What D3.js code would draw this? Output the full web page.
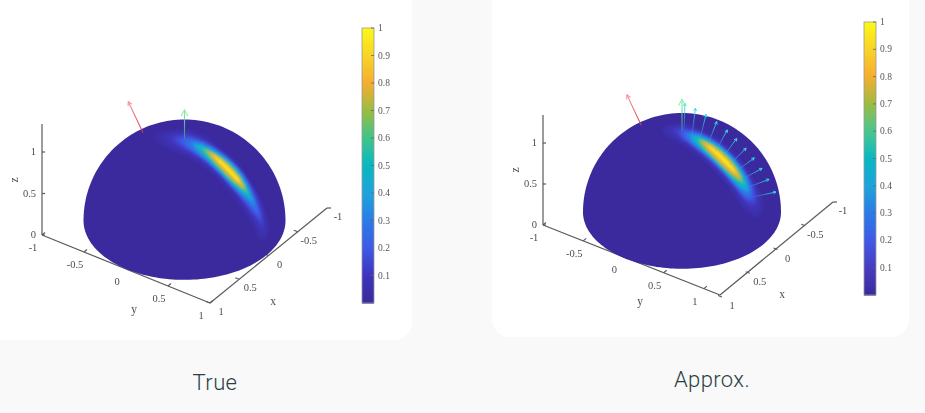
<!DOCTYPE html>
<html>
<head>
<meta charset="utf-8">
<script src="https://cdn.jsdelivr.net/npm/d3@7"></script>
<style>
  html, body { margin: 0; padding: 0; background: #f9f9f9; }
  svg { display: block; }
  .tick-label { font-family: "Liberation Serif", serif; font-size: 10.5px; fill: #4d4d4d; }
  .bar-label { font-family: "Liberation Serif", serif; font-size: 9.5px; fill: #555; }
  .title { font-family: Roboto, sans-serif; font-weight: 300; font-size: 22px; fill: #2b3d45; letter-spacing: .4px; }
</style>
</head>
<body>
<div id="chart"></div>
<script>
// values
const axisTicks = [-1, -0.5, 0, 0.5, 1];
const zTicks = [0, 0.5, 1];
const barTicks = [0.1, 0.2, 0.3, 0.4, 0.5, 0.6, 0.7, 0.8, 0.9, 1];

const colorStops = [0, 0.1, 0.2, 0.3, 0.4, 0.5, 0.6, 0.7, 0.8, 0.9, 1];
const colorValues = ["#3a2a9e", "#4034bc", "#3f5ae8", "#2b7ce6", "#1fa4dc", "#08b8c2", "#40c48a", "#9cbc42", "#f6ae30", "#f8d428", "#fbf916"];

// ridge stations (degrees from the pole towards +y) and offsets across it
const thetaDeg = [-20, -15, -10, -5, 0, 5, 10, 15, 20, 25, 30, 35, 40, 45, 50, 55, 60, 65, 70, 75, 80];
const offsetDeg = [-15, -11.25, -7.5, -3.75, 0, 3.75, 7.5, 11.25, 15];

const trueValues = [
  [0, 0, 0, 0, .01, .01, .01, 0, 0],
  [0, 0, 0, .01, .03, .03, .02, 0, 0],
  [0, 0, .01, .04, .07, .07, .04, .01, 0],
  [0, .01, .03, .08, .13, .13, .07, .02, 0],
  [0, .02, .06, .14, .21, .19, .10, .03, 0],
  [0, .01, .06, .18, .31, .25, .11, .03, 0],
  [0, .01, .06, .24, .48, .33, .11, .02, 0],
  [0, 0, .05, .30, .68, .40, .10, .01, 0],
  [0, 0, .04, .36, .88, .48, .09, .01, 0],
  [0, 0, .04, .44, 1, .60, .09, .01, 0],
  [0, 0, .04, .50, 1, .66, .09, .01, 0],
  [0, 0, .04, .50, 1, .66, .09, .01, 0],
  [0, 0, .03, .42, 1, .56, .08, .01, 0],
  [0, 0, .02, .30, .78, .42, .06, 0, 0],
  [0, 0, .02, .20, .54, .28, .05, 0, 0],
  [0, 0, .01, .15, .38, .20, .04, 0, 0],
  [0, 0, .01, .11, .28, .15, .03, 0, 0],
  [0, 0, .01, .08, .20, .10, .02, 0, 0],
  [0, 0, 0, .05, .13, .07, .01, 0, 0],
  [0, 0, 0, .03, .07, .04, .01, 0, 0],
  [0, 0, 0, .01, .02, .01, 0, 0, 0]
];

const approxValues = [
  [0, 0, 0, 0, 0, 0, 0, 0, 0],
  [0, 0, 0, 0, 0, 0, 0, 0, 0],
  [0, 0, 0, .02, .04, .03, .01, 0, 0],
  [0, 0, .02, .07, .11, .08, .03, 0, 0],
  [0, 0, .04, .12, .18, .14, .05, 0, 0],
  [0, 0, .05, .18, .32, .24, .07, 0, 0],
  [0, 0, .06, .28, .52, .36, .09, 0, 0],
  [0, .01, .08, .38, .78, .50, .11, 0, 0],
  [0, .01, .09, .48, .96, .62, .13, .01, 0],
  [0, .01, .10, .56, 1, .70, .14, .01, 0],
  [0, .01, .10, .58, 1, .74, .14, .01, 0],
  [0, .01, .10, .56, 1, .72, .14, .01, 0],
  [0, .01, .09, .50, .96, .64, .12, .01, 0],
  [0, .01, .08, .40, .78, .50, .10, 0, 0],
  [0, 0, .07, .30, .54, .36, .08, 0, 0],
  [0, 0, .06, .20, .34, .24, .07, 0, 0],
  [0, 0, .05, .13, .18, .13, .05, 0, 0],
  [0, 0, .03, .07, .09, .06, .02, 0, 0],
  [0, 0, .01, .02, .03, .02, .01, 0, 0],
  [0, 0, 0, 0, 0, 0, 0, 0, 0],
  [0, 0, 0, 0, 0, 0, 0, 0, 0]
];

// arrows: angle from the pole towards +y
const redArrowTheta = -30;
const greenArrowTheta = 0;
const cyanArrowTheta = [1.5, 7, 12.6, 18.4, 24.3, 29.8, 35.6, 41, 46.6, 52.2, 58.5];

const width = 925, height = 413;
const svg = d3.select("#chart").append("svg").attr("width", width).attr("height", height);

const defs = svg.append("defs");
defs.append("filter").attr("id", "soft").attr("x", "-20%").attr("y", "-20%").attr("width", "140%").attr("height", "140%")
  .append("feGaussianBlur").attr("stdDeviation", 1.2);

const color = d3.scaleLinear().domain(colorStops).range(colorValues).clamp(true);
const levels = d3.range(0.02, 1, 0.025);

function rad(d) { return d * Math.PI / 180; }

// point on the unit sphere -> [lon, lat], the ridge runs in the plane x = 0
function ridgePoint(theta, offset) {
  const t = rad(theta), o = rad(offset);
  const px = Math.sin(o), py = Math.cos(o) * Math.sin(t), pz = Math.cos(o) * Math.cos(t);
  return [Math.atan2(py, px) * 180 / Math.PI, Math.asin(pz) * 180 / Math.PI];
}

let gradientId = 0;

function drawPanel(p) {
  const g = svg.append("g");

  g.append("rect").attr("x", p.card[0]).attr("y", -40)
    .attr("width", p.card[1] - p.card[0]).attr("height", p.card[2] + 40)
    .attr("rx", 18).attr("fill", "#fff");

  const plot = g.append("g").style("filter", "blur(0.4px)");

  // hemisphere, drawn through a geo projection
  const projection = d3.geoOrthographic()
    .rotate([-p.azimuth, -p.elevation])
    .scale(p.r)
    .translate([p.cx, p.cy])
    .clipAngle(90);
  const geo = d3.geoPath(projection);
  const cap = d3.geoCircle().center([0, 90]).radius(90)();

  defs.append("clipPath").attr("id", "cap-" + p.id).append("path").attr("d", geo(cap));

  // axes first, the sphere sits on top of them
  const yX = d3.scaleLinear().domain([-1, p.yMax]).range([p.yStart[0], p.corner[0]]);
  const yY = d3.scaleLinear().domain([-1, p.yMax]).range([p.yStart[1], p.corner[1]]);
  const xX = d3.scaleLinear().domain([1, -1]).range([p.xStart[0], p.xEnd[0]]);
  const xY = d3.scaleLinear().domain([1, -1]).range([p.xStart[1], p.xEnd[1]]);
  const zY = d3.scaleLinear().domain([0, 1]).range([p.yStart[1], p.zOne]);

  const axes = plot.append("g").attr("stroke", "#5a5a5a").attr("fill", "none").attr("stroke-width", 1.2);
  axes.append("line").attr("x1", p.yStart[0]).attr("y1", p.yStart[1]).attr("x2", p.corner[0]).attr("y2", p.corner[1]);
  axes.append("line").attr("x1", p.corner[0]).attr("y1", p.corner[1]).attr("x2", p.xEnd[0]).attr("y2", p.xEnd[1]);
  axes.append("line").attr("x1", p.yStart[0]).attr("y1", p.yStart[1]).attr("x2", p.yStart[0]).attr("y2", p.zTop);

  axes.selectAll(".yt").data(axisTicks).join("line").attr("class", "yt")
    .attr("x1", d => yX(d)).attr("y1", d => yY(d))
    .attr("x2", d => yX(d) + 3).attr("y2", d => yY(d) - 2.5);
  axes.selectAll(".xt").data(axisTicks).join("line").attr("class", "xt")
    .attr("x1", d => xX(d)).attr("y1", d => xY(d))
    .attr("x2", d => xX(d) + (d === -1 ? 4 : -4)).attr("y2", d => xY(d) - (d === -1 ? 0 : 1.5));
  axes.selectAll(".zt").data(zTicks).join("line").attr("class", "zt")
    .attr("x1", p.yStart[0]).attr("y1", d => zY(d))
    .attr("x2", p.yStart[0] + 3).attr("y2", d => zY(d));

  plot.selectAll(".ylab").data(axisTicks).join("text").attr("class", "tick-label ylab")
    .attr("text-anchor", "middle")
    .attr("x", d => yX(d) + p.yLabel[0]).attr("y", d => yY(d) + p.yLabel[1])
    .text(d => d);
  plot.selectAll(".xlab").data(axisTicks).join("text").attr("class", "tick-label xlab")
    .attr("text-anchor", "middle")
    .attr("x", d => xX(d) + p.xLabel[0]).attr("y", d => xY(d) + p.xLabel[1])
    .text(d => d);
  plot.selectAll(".zlab").data(zTicks).join("text").attr("class", "tick-label zlab")
    .attr("text-anchor", "end")
    .attr("x", p.yStart[0] - 6).attr("y", d => zY(d) + 3)
    .text(d => d);

  plot.append("text").attr("class", "tick-label").attr("text-anchor", "middle")
    .attr("x", p.xName[0]).attr("y", p.xName[1]).style("font-size", "11.5px").text("x");
  plot.append("text").attr("class", "tick-label").attr("text-anchor", "middle")
    .attr("x", p.yName[0]).attr("y", p.yName[1]).style("font-size", "11.5px").text("y");
  plot.append("text").attr("class", "tick-label").attr("text-anchor", "middle")
    .attr("transform", `translate(${p.zName[0]},${p.zName[1]}) rotate(-90)`)
    .style("font-size", "11.5px").text("z");

  plot.append("path").attr("d", geo(cap)).attr("fill", color(0));

  // heat band as filled contours of the value grid
  const contours = d3.contours()
    .size([offsetDeg.length, thetaDeg.length])
    .thresholds(levels)(p.values.flat());

  const toGrid = c => {
    const o = offsetDeg[0] + (c[0] - 0.5) * (offsetDeg[1] - offsetDeg[0]);
    const th = thetaDeg[0] + (c[1] - 0.5) * (thetaDeg[1] - thetaDeg[0]);
    return projection(ridgePoint(th, o));
  };
  const ringPath = d3.line().curve(d3.curveLinearClosed);

  const heat = plot.append("g").attr("clip-path", `url(#cap-${p.id})`)
    .append("g").attr("filter", "url(#soft)");
  heat.selectAll("path").data(contours).join("path")
    .attr("fill", d => color(d.value + 0.0125))
    .attr("fill-rule", "evenodd")
    .attr("d", d => d.coordinates.map(poly => poly.map(ring => ringPath(ring.map(toGrid))).join("")).join(""));

  // arrows leave the sphere along its normal, faint at the base and bright at the tip
  const arrow = (theta, len, col, head, sw, baseOpacity) => {
    const b = projection(ridgePoint(theta, 0));
    const tip = [p.cx + (b[0] - p.cx) * (1 + len), p.cy + (b[1] - p.cy) * (1 + len)];
    const a = Math.atan2(tip[1] - b[1], tip[0] - b[0]);
    const id = "arrow-" + (gradientId++);
    const grad = defs.append("linearGradient").attr("id", id).attr("gradientUnits", "userSpaceOnUse")
      .attr("x1", b[0]).attr("y1", b[1]).attr("x2", tip[0]).attr("y2", tip[1]);
    grad.append("stop").attr("offset", 0).attr("stop-color", col[0]).attr("stop-opacity", baseOpacity);
    grad.append("stop").attr("offset", 1).attr("stop-color", col[1]);
    const grp = plot.append("g").attr("fill", "none").attr("stroke-width", sw);
    grp.append("line").attr("x1", b[0]).attr("y1", b[1]).attr("x2", tip[0]).attr("y2", tip[1]).attr("stroke", `url(#${id})`);
    const barb = s => [tip[0] - head * Math.cos(a + s * 0.5), tip[1] - head * Math.sin(a + s * 0.5)];
    grp.append("path").attr("d", d3.line()([barb(1), tip, barb(-1)])).attr("stroke", col[1]);
  };

  arrow(redArrowTheta, p.redLen, ["#d8304a", "#f7959c"], 4.5, 1.1, 0.9);
  (p.cyan || []).forEach(t => arrow(t, 0.355, ["#3a9ae0", "#2fdcec"], 3, 1, 0.15));
  arrow(greenArrowTheta, p.greenLen, ["#2f9a86", "#8cf0a4"], 7, 1.1, 0.8);

  // colorbar
  const barY = d3.scaleLinear().domain([0, 1]).range([p.bar[3], p.bar[2]]);
  const bar = plot.append("g");
  const steps = d3.range(0, 1, 1 / 275);
  bar.selectAll("rect").data(steps).join("rect")
    .attr("x", p.bar[0]).attr("width", p.bar[1] - p.bar[0])
    .attr("y", d => barY(d + 1 / 275)).attr("height", (p.bar[3] - p.bar[2]) / 275 + 0.6)
    .attr("fill", d => color(d));
  bar.append("rect").attr("x", p.bar[0]).attr("y", p.bar[2])
    .attr("width", p.bar[1] - p.bar[0]).attr("height", p.bar[3] - p.bar[2])
    .attr("fill", "none").attr("stroke", "#999").attr("stroke-width", 0.8);
  bar.selectAll(".bt").data(barTicks).join("line").attr("class", "bt")
    .attr("x1", p.bar[1] - 3).attr("x2", p.bar[1])
    .attr("y1", d => barY(d)).attr("y2", d => barY(d))
    .attr("stroke", "#666").attr("stroke-width", 0.8);
  bar.selectAll("text").data(barTicks).join("text").attr("class", "bar-label")
    .attr("x", p.bar[1] + 4).attr("y", d => barY(d) + 3)
    .text(d => d);

  svg.append("text").attr("class", "title").attr("text-anchor", "middle")
    .attr("x", p.title[0]).attr("y", p.title[1]).text(p.name);
}

drawPanel({
  id: "true", name: "True", values: trueValues,
  card: [-40, 412, 340], title: [215, 390],
  azimuth: 34.8, elevation: 36, r: 101, cx: 184.5, cy: 220.5,
  yStart: [42, 235], corner: [210, 303], xStart: [210, 303], xEnd: [327, 208], yMax: 1,
  zOne: 152, zTop: 124,
  yLabel: [-9, 16], xLabel: [11, 12],
  xName: [273, 305], yName: [134, 313], zName: [18, 180],
  redLen: 0.355, greenLen: 0.355,
  bar: [362, 374, 28, 303]
});

drawPanel({
  id: "approx", name: "Approx.", values: approxValues, cyan: cyanArrowTheta,
  card: [492, 909, 337], title: [712, 387],
  azimuth: 34.8, elevation: 35, r: 99, cx: 682, cy: 212,
  yStart: [543, 225], corner: [720, 295], xStart: [722, 297], xEnd: [833, 202], yMax: 1.2,
  zOne: 143, zTop: 115,
  yLabel: [-9, 16], xLabel: [10, 12],
  xName: [782, 298], yName: [640, 305], zName: [519, 170],
  redLen: 0.355, greenLen: 0.39,
  bar: [864, 876, 22, 295]
});
</script>
</body>
</html>
